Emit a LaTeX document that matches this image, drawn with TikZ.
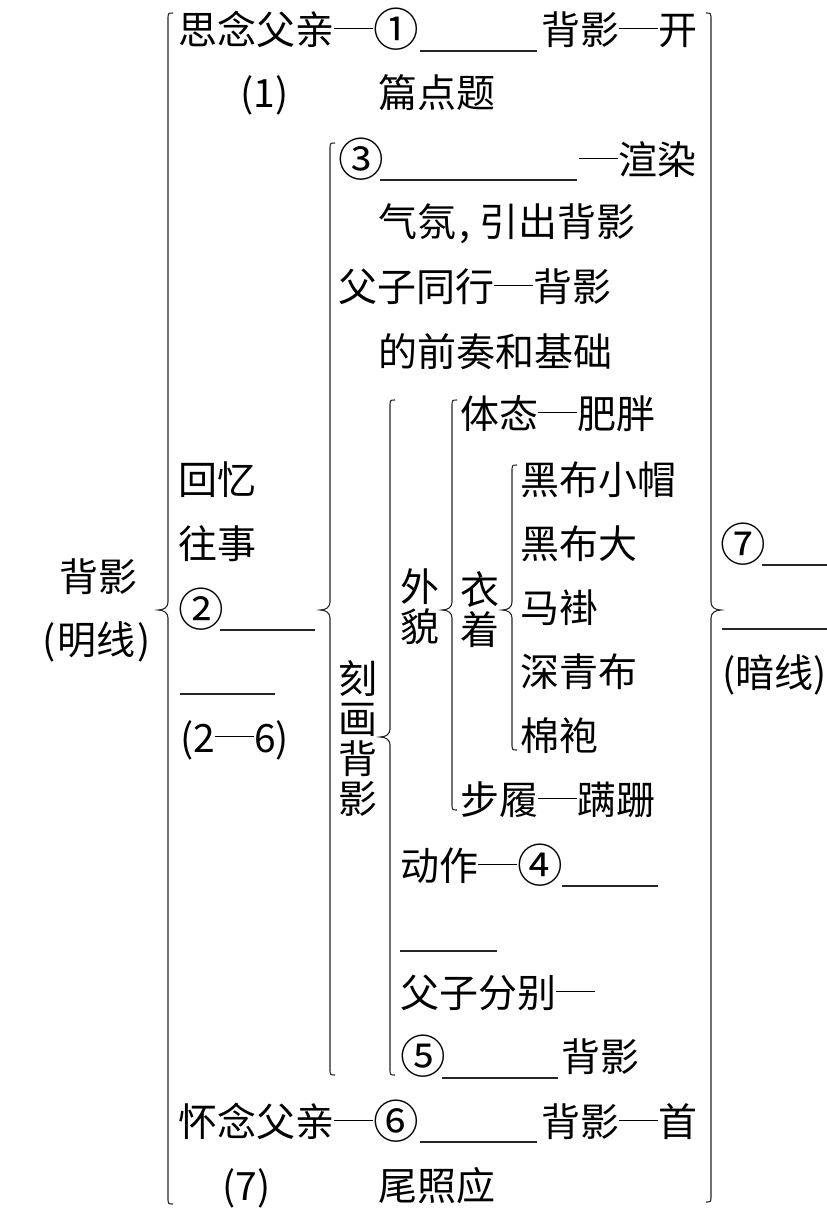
\documentclass[tikz,border=0pt]{standalone}
\usepackage{fontspec}
\usepackage{graphicx}
\setmainfont{Noto Sans CJK SC}
% full-width dash
\newcommand{\fd}{\rule[0.40em]{1em}{0.9pt}}
% enlarged circled number
\newcommand{\cn}[1]{\raisebox{-0.065em}{\scalebox{1.17}{#1}}}
% brace: #1 x of stem, #2 top y, #3 tip y, #4 bottom y, #5 side (1 = tip left, -1 = tip right)
\newcommand{\BrX}[5]{%
  \draw[brc] ({#1+5*(#5)},#2) .. controls ({#1},#2) .. ({#1},{#2+7})
    -- ({#1},{#3-8}) .. controls ({#1},{#3-3}) and ({#1-4*(#5)},#3) .. ({#1-10*(#5)},#3)
    .. controls ({#1-4*(#5)},#3) and ({#1},{#3+3}) .. ({#1},{#3+8})
    -- ({#1},{#4-7}) .. controls ({#1},#4) .. ({#1+5*(#5)},#4);}
\begin{document}
\begin{tikzpicture}[x=1pt,y=-1pt,
  txt/.style={inner sep=0pt, anchor=west, text height=33pt, text depth=5pt,
              font=\fontsize{39}{40}\selectfont},
  ctxt/.style={inner sep=0pt, align=center, font=\fontsize{39}{40}\selectfont},
  brc/.style={line width=1.1pt, black!85},
  blank/.style={line width=1.1pt, black!85}]
\useasboundingbox (0,0) rectangle (827,1232);
\fill[white] (0,0) rectangle (827,1232);

% braces
\BrX{168}{13}{610}{1204}{1}
\BrX{711}{13}{610}{1202}{-1}
\BrX{330}{143}{610}{1075}{1}
\BrX{390}{400}{737}{1075}{1}
\BrX{452}{400}{610}{810}{1}
\BrX{512}{465}{610}{750}{1}

% root
\node[ctxt] (root) at (98,577) {背影};
\node[ctxt] (rootb) at (97,642) {(\hspace{2pt}明线\hspace{2pt})};

% row 1
\node[txt] (r1a) at (178,30) {思念父亲\fd\cn{①}};
\draw[blank] (420,51) -- (537,51);
\node[txt] (r1b) at (541,30) {背影\fd 开};
\node[txt] (r2a) at (240,93) {(1)};
\node[txt] (r2b) at (378,93) {篇点题};

% level 2 left column
\node[txt] (hy) at (178,480) {回忆};
\node[txt] (ws) at (178,544) {往事};
\node[txt] (c2) at (178,610) {\cn{②}};
\draw[blank] (220,630) -- (315,630);
\draw[blank] (180,694) -- (275,694);
\node[txt] (p26) at (180,738) {(2\fd 6)};

% level 2 items
\node[txt] (c3) at (338,160) {\cn{③}};
\draw[blank] (380,180) -- (577,180);
\node[txt] (xr) at (579,160) {\fd 渲染};
\node[txt] (qf) at (378,222) {气氛\hspace{3pt},\hspace{9pt}引出背影};
\node[txt] (fz) at (338,287) {父子同行\fd 背影};
\node[txt] (dq) at (378,352) {的前奏和基础};

\node[ctxt] (khby) at (358,738) {刻\\画\\背\\影};
\node[ctxt] (wm) at (420,607) {外\\貌};
\node[ctxt] (yz) at (480,610) {衣\\着};

\node[txt] (tt) at (460,414) {体态\fd 肥胖};
\node[txt] (y1) at (520,480) {黑布小帽};
\node[txt] (y2) at (520,544) {黑布大};
\node[txt] (y3) at (520,608) {马褂};
\node[txt] (y4) at (520,672) {深青布};
\node[txt] (y5) at (520,736) {棉袍};
\node[txt] (bl) at (460,800) {步履\fd 蹒跚};

\node[txt] (dz) at (400,866) {动作\fd\cn{④}};
\draw[blank] (562,886) -- (658,886);
\draw[blank] (400,951) -- (497,951);
\node[txt] (fb) at (400,993) {父子分别\fd};
\node[txt] (c5) at (400,1057) {\cn{⑤}};
\draw[blank] (442,1078) -- (558,1078);
\node[txt] (by5) at (561,1057) {背影};

% last row
\node[txt] (r7a) at (178,1122) {怀念父亲\fd\cn{⑥}};
\draw[blank] (420,1142) -- (537,1142);
\node[txt] (r7b) at (541,1122) {背影\fd 首};
\node[txt] (r8a) at (222,1186) {(7)};
\node[txt] (r8b) at (378,1186) {尾照应};

% right side
\node[txt] (c7) at (720,545) {\cn{⑦}};
\draw[blank] (762,565) -- (827,565);
\draw[blank] (722,629) -- (827,629);
\node[txt] (ax) at (722,673) {(暗线)};
\end{tikzpicture}
\end{document}
